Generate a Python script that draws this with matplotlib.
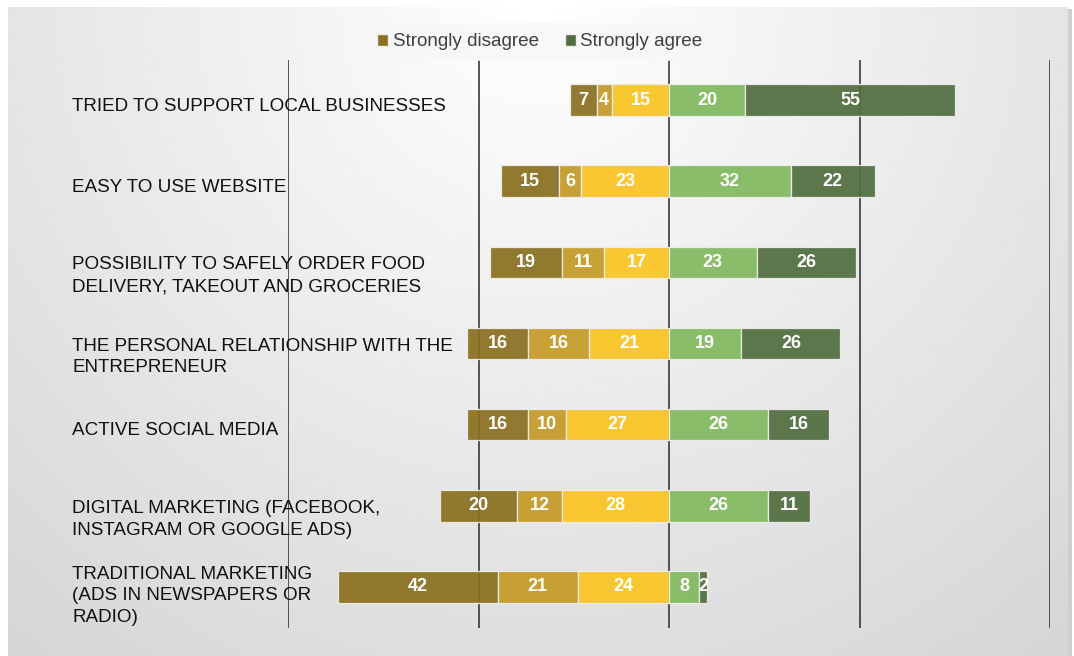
import numpy as np
import matplotlib.pyplot as plt
import matplotlib.transforms as mtransforms
from matplotlib.patches import Patch

plt.rcParams['font.family'] = ['Liberation Sans', 'DejaVu Sans']

# ---- data ----
categories = [
    "TRIED TO SUPPORT LOCAL BUSINESSES",
    "EASY TO USE WEBSITE",
    "POSSIBILITY TO SAFELY ORDER FOOD\nDELIVERY, TAKEOUT AND GROCERIES",
    "THE PERSONAL RELATIONSHIP WITH THE\nENTREPRENEUR",
    "ACTIVE SOCIAL MEDIA",
    "DIGITAL MARKETING (FACEBOOK,\nINSTAGRAM OR GOOGLE ADS)",
    "TRADITIONAL MARKETING\n(ADS IN NEWSPAPERS OR\nRADIO)",
]
strongly_disagree = [7, 15, 19, 16, 16, 20, 42]
disagree = [4, 6, 11, 16, 10, 12, 21]
somewhat_disagree = [15, 23, 17, 21, 27, 28, 24]
agree = [20, 32, 23, 19, 26, 26, 8]
strongly_agree = [55, 22, 26, 26, 16, 11, 2]

legend_labels = ["Strongly disagree", "Strongly agree"]
gridline_x = [-100, -50, 0, 50, 100]

c_sd = "#8b7021"
c_d = "#c49a28"
c_s = "#fac423"
c_a = "#82b95f"
c_sa = "#526e40"

W, H = 1074, 656
fig = plt.figure(figsize=(W / 100, H / 100), dpi=100)
fig.patch.set_facecolor("white")

# shadow strip + gradient panel
sh = fig.add_axes([12 / W, 0, 1060 / W, (H - 9) / H], zorder=-2)
sh.set_facecolor("#cfcfcf")
sh.set_xticks([])
sh.set_yticks([])
for sp in sh.spines.values():
    sp.set_visible(False)

bg = fig.add_axes([8 / W, 0, 1060 / W, (H - 7) / H], zorder=-1)
gx, gy = np.meshgrid(np.linspace(-1, 1, 400), np.linspace(0, 1, 300))
dist = np.sqrt((gx * 0.8) ** 2 + (gy * 1.0) ** 2)
grad = 1.0 - 0.165 * np.clip(dist, 0, 1.28) / 1.28
bg.imshow(grad, cmap="gray", vmin=0, vmax=1, aspect="auto",
          extent=[0, 1, 0, 1], origin="upper", interpolation="bilinear")
bg.axis("off")

# main axes
ax = fig.add_axes([288 / W, 1 - 627.5 / H, 762 / W, 568 / H], zorder=1)
ax.patch.set_visible(False)
ax.set_xlim(-100, 100)
ax.set_ylim(len(categories) - 0.5, -0.5)
ax.axis("off")

ax.vlines(gridline_x, len(categories) - 0.5, -0.5, colors="#2a2a2a",
          linewidth=1.1, zorder=1)

y = np.arange(len(categories))
sd = np.array(strongly_disagree)
d = np.array(disagree)
s = np.array(somewhat_disagree)
a = np.array(agree)
sa = np.array(strongly_agree)

segments = [
    (sd, -(sd + d + s), c_sd),
    (d, -(d + s), c_d),
    (s, -s, c_s),
    (a, np.zeros_like(a), c_a),
    (sa, a, c_sa),
]

for vals, lefts, col in segments:
    ax.barh(y, vals, left=lefts, height=0.39, color=col, edgecolor="#eeeeee",
            linewidth=0.9, alpha=0.93, zorder=2)
    for yi, v, l in zip(y, vals, lefts):
        ax.text(l + v / 2, yi, str(v), ha="center", va="center", color="white",
                fontsize=13, fontweight="bold", zorder=3, clip_on=False)

# category labels (Excel places wrapped labels a bit below the bar centre)
label_shift = {1: 0.075, 2: 0.165, 3: 0.11}
trans = mtransforms.blended_transform_factory(fig.transFigure, ax.transData)
for yi, lab in zip(y, categories):
    n = lab.count("\n") + 1
    ax.text(72 / W, yi + label_shift[n], lab, transform=trans, ha="left",
            va="center", fontsize=13.6, color="#111111", linespacing=1.36,
            zorder=3)

handles = [Patch(facecolor=c_sd, edgecolor="#eeeeee"),
           Patch(facecolor=c_sa, edgecolor="#eeeeee")]
leg = fig.legend(handles, legend_labels, loc="center",
                 bbox_to_anchor=(540 / W, 1 - 42 / H), ncol=2, frameon=True,
                 fontsize=13.6, handlelength=0.55, handleheight=0.55,
                 handletextpad=0.25, columnspacing=1.4, borderpad=0.55,
                 fancybox=False)
leg.get_frame().set_facecolor("#f7f7f7")
leg.get_frame().set_edgecolor("none")
for t in leg.get_texts():
    t.set_color("#404040")

fig.savefig("out.png", dpi=100)
